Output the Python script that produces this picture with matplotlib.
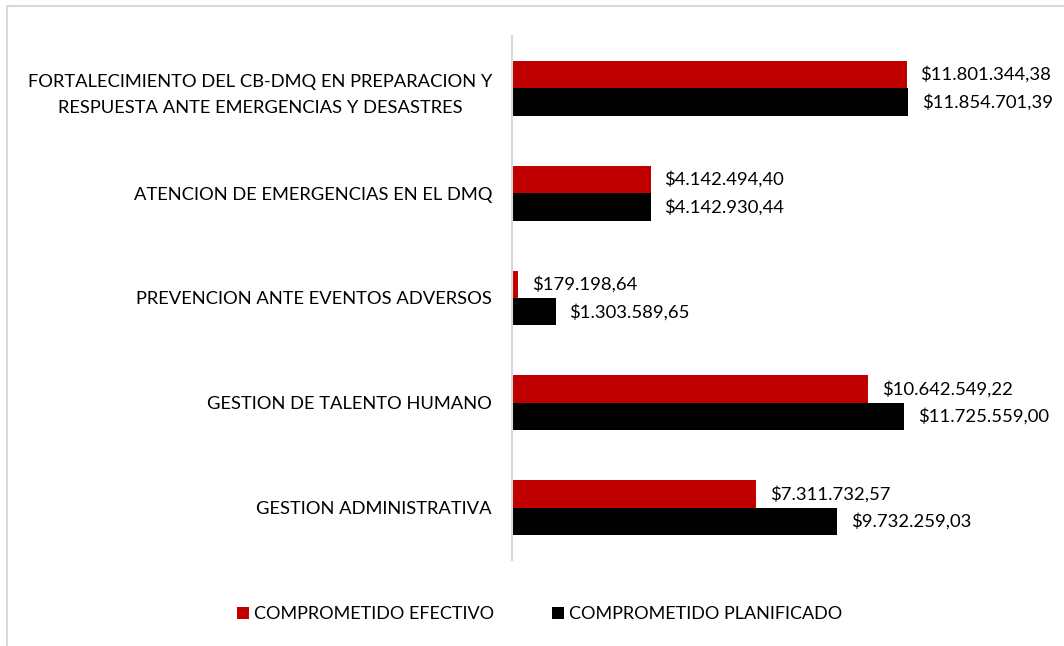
#!/usr/bin/env python3
"""Comprometido efectivo vs planificado por programa."""

import sys

import matplotlib
matplotlib.use('Agg')
import matplotlib.pyplot as plt
from matplotlib.patches import Rectangle

programas = [
    'FORTALECIMIENTO DEL CB-DMQ EN PREPARACION Y\nRESPUESTA ANTE EMERGENCIAS Y DESASTRES',
    'ATENCION DE EMERGENCIAS EN EL DMQ',
    'PREVENCION ANTE EVENTOS ADVERSOS',
    'GESTION DE TALENTO HUMANO',
    'GESTION ADMINISTRATIVA',
]
efectivo = [11801344.38, 4142494.40, 179198.64, 10642549.22, 7311732.57]
planificado = [11854701.39, 4142930.44, 1303589.65, 11725559.00, 9732259.03]
series = ['COMPROMETIDO EFECTIVO', 'COMPROMETIDO PLANIFICADO']
colores = ['#c00000', '#000000']


def fmt(v: float) -> str:
    """Formato de moneda con punto de miles y coma decimal."""
    s = f'{v:,.2f}'
    return '$' + s.replace(',', 'X').replace('.', ',').replace('X', '.')


def main() -> int:
    """Dibujar el grafico."""
    plt.rcParams['font.family'] = ['Lato', 'DejaVu Sans']

    fig = plt.figure(figsize=(10.64, 6.46), dpi=100)
    # marco gris del area del grafico
    fig.patches.append(Rectangle((7 / 1064, -0.1), 1.2, (646 - 6) / 646 + 0.1,
                                 transform=fig.transFigure, fill=False,
                                 edgecolor='#d9d9d9', linewidth=1.5))

    ax = fig.add_axes([512 / 1064, 86 / 646, 535 / 1064, 524 / 646])

    n = len(programas)
    pos = [n - 1 - i for i in range(n)]
    h = 0.262
    y_ef = [p + h / 2 for p in pos]
    y_pl = [p - h / 2 for p in pos]

    ax.barh(y_ef, efectivo, height=h, color=colores[0], label=series[0])
    ax.barh(y_pl, planificado, height=h, color=colores[1], label=series[1])

    for y, v in zip(y_ef, efectivo):
        ax.annotate(fmt(v), (v, y), xytext=(10, 0), textcoords='offset points',
                    va='center', ha='left', fontsize=13.3, color='#000000')
    for y, v in zip(y_pl, planificado):
        ax.annotate(fmt(v), (v, y), xytext=(10, 0), textcoords='offset points',
                    va='center', ha='left', fontsize=13.3, color='#000000')

    ax.set_xlim(0, 16e6)
    ax.set_ylim(-0.5, n - 0.5)
    ax.set_yticks(pos)
    ax.set_yticklabels(programas, fontsize=13.2, multialignment='center',
                       linespacing=1.8)
    ax.tick_params(axis='y', length=0, pad=14.4)
    ax.set_xticks([])
    for s in ['top', 'right', 'bottom']:
        ax.spines[s].set_visible(False)
    ax.spines['left'].set_color('#d9d9d9')
    ax.spines['left'].set_linewidth(1.5)

    fig.legend(loc='center', bbox_to_anchor=(540 / 1064, 1 - 614 / 646),
               ncol=2, frameon=False, fontsize=13, handlelength=0.65,
               handleheight=0.65, handletextpad=0.3, columnspacing=3.2)

    fig.savefig('out.png', dpi=100)
    return 0


if __name__ == '__main__':
    sys.exit(main())
